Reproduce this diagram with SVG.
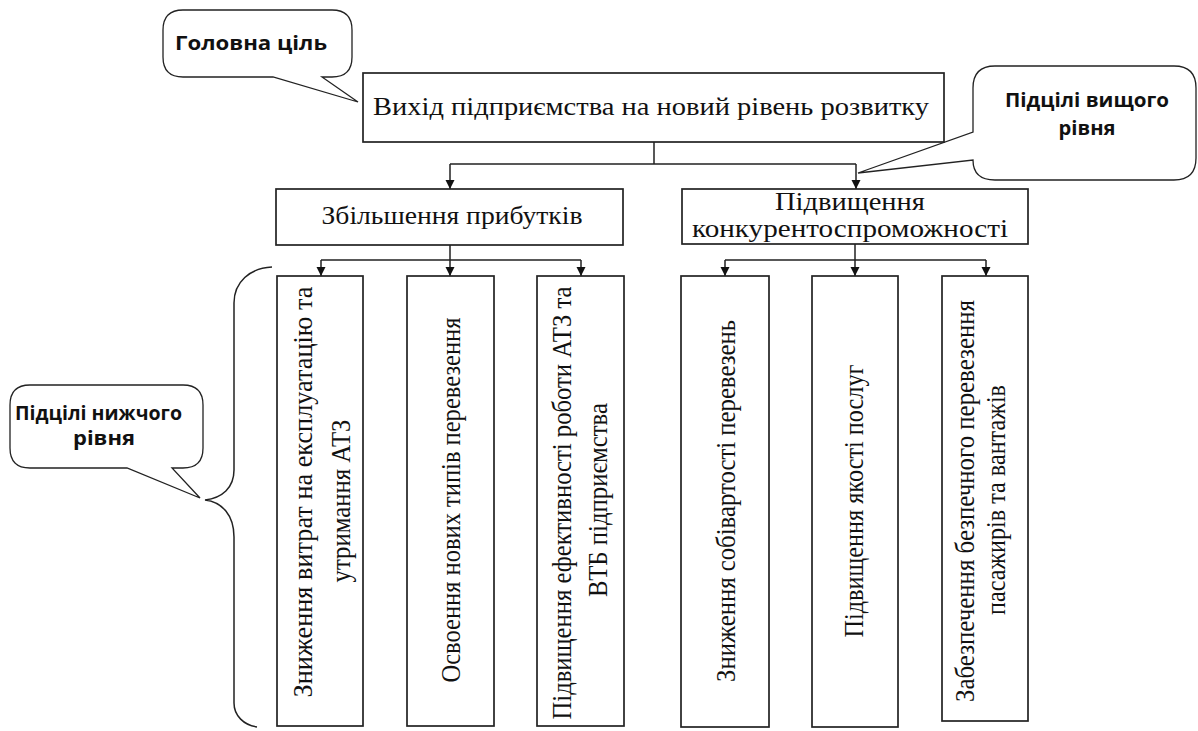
<svg xmlns="http://www.w3.org/2000/svg" width="1198" height="731" viewBox="0 0 1198 731">
<defs>
<marker id="arr" markerUnits="userSpaceOnUse" markerWidth="10" markerHeight="10" refX="9" refY="4.5" orient="auto">
<path d="M0,0 L9,4.5 L0,9 Z" fill="#111"/>
</marker>
<style>
.box{fill:#fff;stroke:#222;stroke-width:1.7}
.bub{fill:#fff;stroke:#222;stroke-width:1.3}
.ser{font-family:"Liberation Serif","Times New Roman",serif;font-size:26px;fill:#111}
.vt{font-family:"Liberation Serif","Times New Roman",serif;font-size:27px;fill:#111;text-anchor:middle}
.bold{font-family:"Open Sans","Liberation Sans",sans-serif;font-weight:bold;font-size:19px;fill:#111}
.con{fill:none;stroke:#222;stroke-width:1.5}
</style>
</defs>
<rect width="1198" height="731" fill="#fff"/>

<g id="callout-main">
<path class="bub" d="M183,10 H332 Q352,10 352,30 V57 Q352,77 332,77 H322 L358,102 L273,77 H183 Q163,77 163,57 V30 Q163,10 183,10 Z"/>
<text class="bold" x="251" y="50" text-anchor="middle" textLength="152" lengthAdjust="spacingAndGlyphs">Головна ціль</text>
</g>

<g id="callout-upper">
<path class="bub" d="M995,66 H1174 Q1196,66 1196,88 V158 Q1196,180 1174,180 H995 Q973,180 973,160 L858,173 L973,132 V88 Q973,66 995,66 Z"/>
<text class="bold" x="1087" y="107" text-anchor="middle" textLength="164" lengthAdjust="spacingAndGlyphs">Підцілі вищого</text>
<text class="bold" x="1087" y="135" text-anchor="middle" textLength="57" lengthAdjust="spacingAndGlyphs">рівня</text>
</g>

<g id="callout-lower">
<path class="bub" d="M30,385 H183 Q203,385 203,405 V448 Q203,468 183,468 H172 L200,498 L127,468 H30 Q10,468 10,448 V405 Q10,385 30,385 Z"/>
<text class="bold" x="15" y="420" textLength="167" lengthAdjust="spacingAndGlyphs">Підцілі нижчого</text>
<text class="bold" x="73" y="445" textLength="62" lengthAdjust="spacingAndGlyphs">рівня</text>
</g>

<g id="brace">
<path class="con" d="M272,267 C250,268 234,282 234,303 V470 C234,488 222,498 205,500 C222,502 234,515 234,537 V703 C234,716 244,725 257,727" stroke-width="1.3"/>
</g>

<g id="connectors">
<path class="con" d="M654,142 V164 M450,164 H856"/>
<path class="con" d="M450,164 V189" marker-end="url(#arr)"/>
<path class="con" d="M856,164 V189" marker-end="url(#arr)"/>
<path class="con" d="M450,245 V260 M321,260 H581"/>
<path class="con" d="M321,260 V276" marker-end="url(#arr)"/>
<path class="con" d="M450,260 V276" marker-end="url(#arr)"/>
<path class="con" d="M581,260 V276" marker-end="url(#arr)"/>
<path class="con" d="M855,244 V260 M725,260 H986"/>
<path class="con" d="M725,260 V276" marker-end="url(#arr)"/>
<path class="con" d="M855,260 V276" marker-end="url(#arr)"/>
<path class="con" d="M986,260 V276" marker-end="url(#arr)"/>
</g>

<g id="goal">
<rect class="box" x="363" y="73" width="581" height="69"/>
<text class="ser" x="651" y="115" text-anchor="middle" textLength="556" lengthAdjust="spacingAndGlyphs">Вихід підприємства на новий рівень розвитку</text>
</g>

<g id="profit">
<rect class="box" x="276" y="189" width="347" height="56"/>
<text class="ser" x="452" y="224" text-anchor="middle" textLength="261" lengthAdjust="spacingAndGlyphs">Збільшення прибутків</text>
</g>

<g id="competitiveness">
<rect class="box" x="682" y="189" width="346" height="55"/>
<text class="ser" x="850" y="210" text-anchor="middle" textLength="150" lengthAdjust="spacingAndGlyphs">Підвищення</text>
<text class="ser" x="850" y="237" text-anchor="middle" textLength="316" lengthAdjust="spacingAndGlyphs">конкурентоспроможності</text>
</g>

<g id="costs">
<rect class="box" x="277" y="276" width="86" height="450"/>
<text class="vt" transform="translate(312,492) rotate(-90)" textLength="411" lengthAdjust="spacingAndGlyphs">Зниження витрат на експлуатацію та</text>
<text class="vt" transform="translate(350,501) rotate(-90)" textLength="163" lengthAdjust="spacingAndGlyphs">утримання АТЗ</text>
</g>

<g id="new-types">
<rect class="box" x="407" y="276" width="87" height="450"/>
<text class="vt" transform="translate(460,500) rotate(-90)" textLength="365" lengthAdjust="spacingAndGlyphs">Освоення нових типів перевезення</text>
</g>

<g id="efficiency">
<rect class="box" x="537" y="276" width="87" height="450"/>
<text class="vt" transform="translate(571,503) rotate(-90)" textLength="433" lengthAdjust="spacingAndGlyphs">Підвищення ефективності роботи АТЗ та</text>
<text class="vt" transform="translate(607,500) rotate(-90)" textLength="194" lengthAdjust="spacingAndGlyphs">ВТБ підприємства</text>
</g>

<g id="cost-price">
<rect class="box" x="681" y="276" width="88" height="451"/>
<text class="vt" transform="translate(735,501) rotate(-90)" textLength="362" lengthAdjust="spacingAndGlyphs">Зниження собівартості перевезень</text>
</g>

<g id="quality">
<rect class="box" x="812" y="276" width="86" height="451"/>
<text class="vt" transform="translate(863,501) rotate(-90)" textLength="273" lengthAdjust="spacingAndGlyphs">Підвищення якості послуг</text>
</g>

<g id="safety">
<rect class="box" x="942" y="276" width="86" height="445"/>
<text class="vt" transform="translate(974,501) rotate(-90)" textLength="402" lengthAdjust="spacingAndGlyphs">Забезпечення безпечного перевезення</text>
<text class="vt" transform="translate(1005,500) rotate(-90)" textLength="230" lengthAdjust="spacingAndGlyphs">пасажирів та вантажів</text>
</g>
</svg>
